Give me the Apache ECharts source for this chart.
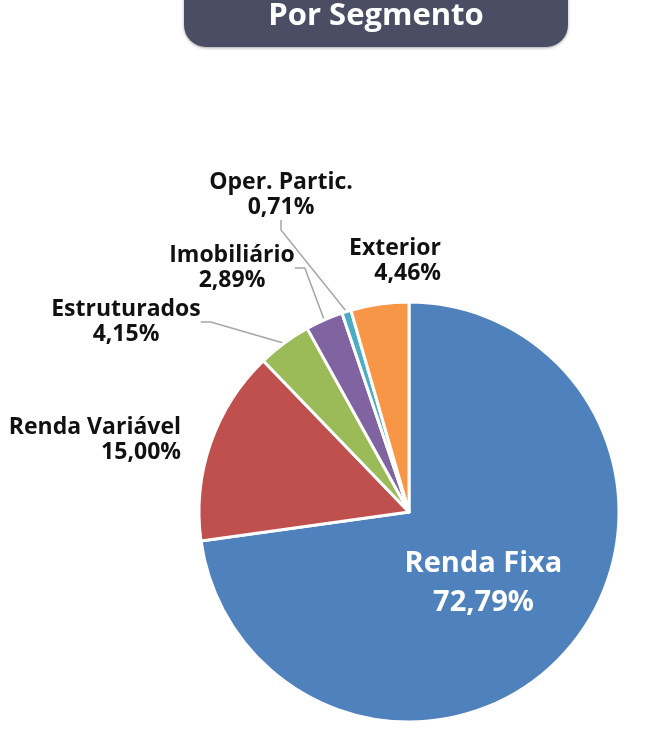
<!DOCTYPE html>
<html><head><meta charset="utf-8">
<script src="https://cdn.jsdelivr.net/npm/echarts@6/dist/echarts.min.js"></script>
<style>html,body{margin:0;padding:0;background:#fff}#c{width:660px;height:737px}</style>
</head><body><div id="c"></div>
<script>
const categories = ['Renda Fixa', 'Renda Variável', 'Estruturados', 'Imobiliário', 'Oper. Partic.', 'Exterior'];
const values = [72.79, 15.00, 4.15, 2.89, 0.71, 4.46];
const colors = ['#4F81BD', '#C0504D', '#9BBB59', '#8064A2', '#4BACC6', '#F79646'];
const title = 'Por Segmento';

const labelSpots = [null,
  {x: 181, y: 440, align: 'right', line: false},
  {x: 126, y: 322, align: 'center', line: true},
  {x: 232, y: 268, align: 'center', line: true},
  {x: 281, y: 195, align: 'center', line: true},
  {x: 441, y: 261, align: 'right', line: false}
];

const fmt = v => v.toFixed(2).replace('.', ',') + '%';

const chart = echarts.init(document.getElementById('c'), null, {renderer: 'canvas'});
chart.setOption({
  animation: false,
  textStyle: {fontFamily: 'Open Sans'},
  graphic: [
    {type: 'rect', shape: {x: 184, y: -30, width: 384, height: 77, r: 22},
     style: {fill: '#4a4d63', shadowBlur: 3, shadowColor: 'rgba(0,0,0,0.35)', shadowOffsetY: 1}},
    {type: 'text', x: 376, y: 16, style: {text: title, fill: '#fff', font: 'bold 31px "Open Sans"', align: 'center', verticalAlign: 'middle'}}
  ],
  series: [{
    type: 'pie',
    center: [409, 512],
    radius: [0, 210],
    startAngle: 90,
    clockwise: true,
    avoidLabelOverlap: false,
    itemStyle: {borderColor: '#fff', borderWidth: 3},
    label: {
      show: true, position: 'outside', color: '#111', fontSize: 23, fontWeight: 'bold',
      fontFamily: 'Open Sans', lineHeight: 25,
      formatter: p => p.name + '\n' + fmt(p.value)
    },
    labelLine: {show: true, lineStyle: {color: '#a6a6a6', width: 1.5}, length: 20, length2: 10},
    labelLayout: function (p) {
      const s = labelSpots[p.dataIndex];
      if (!s) return {dx: -7};
      return {x: s.x, y: s.y, align: s.align, verticalAlign: 'middle'};
    },
    data: categories.map((n, i) => {
      const d = {name: n, value: values[i], itemStyle: {color: colors[i]}};
      if (i === 0) {
        d.label = {position: 'inside', color: '#fff', fontSize: 29, lineHeight: 39, align: 'center'};
        d.labelLine = {show: false};
      } else if (!labelSpots[i].line) {
        d.labelLine = {show: false};
      }
      return d;
    })
  }]
});
</script></body></html>
